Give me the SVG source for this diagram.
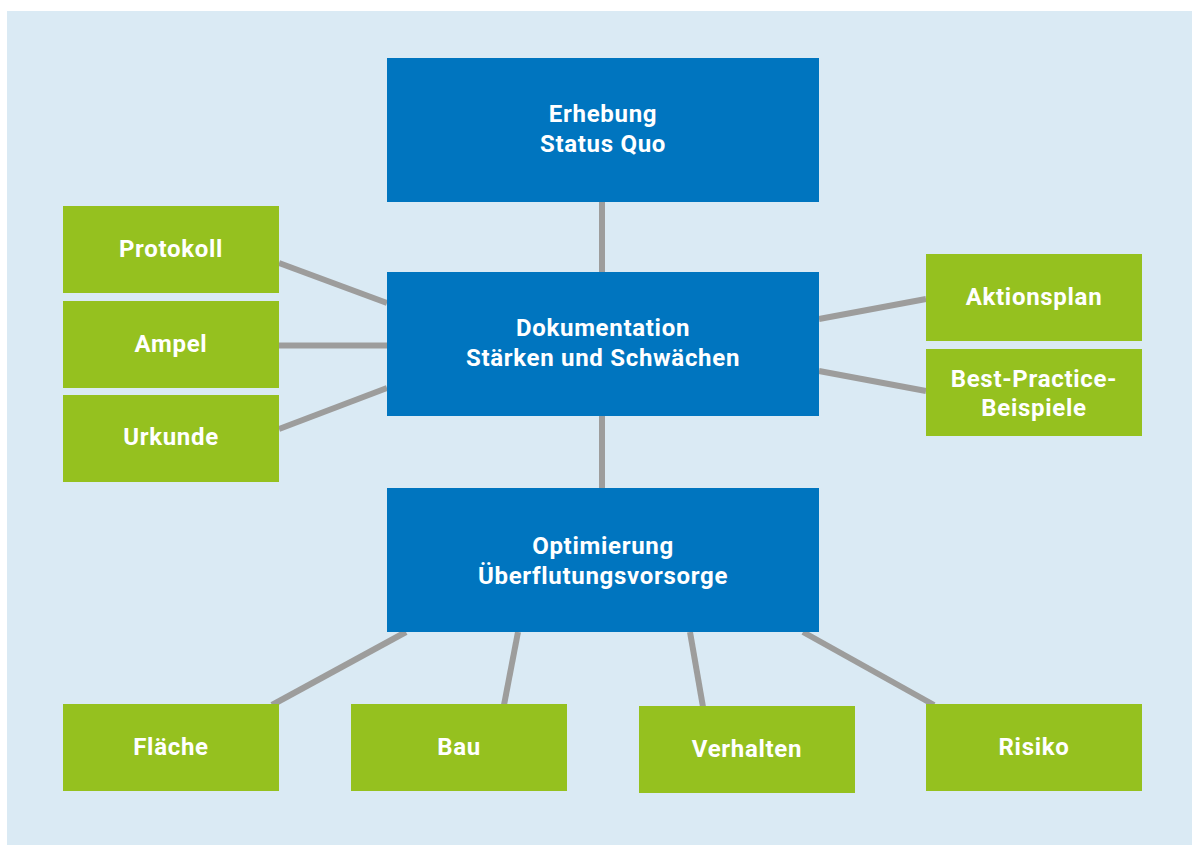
<svg xmlns="http://www.w3.org/2000/svg" width="1192" height="845" viewBox="0 0 1192 845">
<style>
.blue{fill:#0075bf}
.green{fill:#95c11f}
.lbl{font-family:Roboto,"Liberation Sans",sans-serif;font-weight:bold;font-size:24px;letter-spacing:0.7px;fill:#ffffff;text-anchor:middle}
.con{stroke:#9d9d9c;stroke-width:6;fill:none}
</style>
<rect x="0" y="0" width="1192" height="845" fill="#ffffff"/>
<rect x="7" y="11" width="1185" height="834" fill="#daeaf4"/>
<g id="connectors">
<line class="con" x1="602" y1="202" x2="602" y2="272"/>
<line class="con" x1="602" y1="416" x2="602" y2="488"/>
<line class="con" x1="279" y1="263" x2="387" y2="303"/>
<line class="con" x1="279" y1="345.5" x2="387" y2="345.5"/>
<line class="con" x1="279" y1="429" x2="387" y2="388"/>
<line class="con" x1="819" y1="319" x2="926" y2="299"/>
<line class="con" x1="819" y1="371" x2="926" y2="391"/>
<line class="con" x1="406" y1="632" x2="272" y2="705"/>
<line class="con" x1="518" y1="632" x2="504" y2="705"/>
<line class="con" x1="690" y1="632" x2="703" y2="707"/>
<line class="con" x1="803" y1="632" x2="934" y2="705"/>
</g>
<g id="erhebung">
<rect class="blue" x="387" y="58" width="432" height="144"/>
<text class="lbl" x="603" y="122">Erhebung</text>
<text class="lbl" x="603" y="152">Status Quo</text>
</g>
<g id="dokumentation">
<rect class="blue" x="387" y="272" width="432" height="144"/>
<text class="lbl" x="603" y="336">Dokumentation</text>
<text class="lbl" x="603" y="366">Stärken und Schwächen</text>
</g>
<g id="optimierung">
<rect class="blue" x="387" y="488" width="432" height="144"/>
<text class="lbl" x="603" y="554">Optimierung</text>
<text class="lbl" x="603" y="584">Überflutungsvorsorge</text>
</g>
<g id="protokoll">
<rect class="green" x="63" y="206" width="216" height="87"/>
<text class="lbl" x="171" y="257">Protokoll</text>
</g>
<g id="ampel">
<rect class="green" x="63" y="301" width="216" height="87"/>
<text class="lbl" x="171" y="352">Ampel</text>
</g>
<g id="urkunde">
<rect class="green" x="63" y="395" width="216" height="87"/>
<text class="lbl" x="171" y="445">Urkunde</text>
</g>
<g id="aktionsplan">
<rect class="green" x="926" y="254" width="216" height="87"/>
<text class="lbl" x="1034" y="305">Aktionsplan</text>
</g>
<g id="bestpractice">
<rect class="green" x="926" y="349" width="216" height="87"/>
<text class="lbl" x="1034" y="387">Best-Practice-</text>
<text class="lbl" x="1034" y="416">Beispiele</text>
</g>
<g id="flaeche">
<rect class="green" x="63" y="704" width="216" height="87"/>
<text class="lbl" x="171" y="755">Fläche</text>
</g>
<g id="bau">
<rect class="green" x="351" y="704" width="216" height="87"/>
<text class="lbl" x="459" y="755">Bau</text>
</g>
<g id="verhalten">
<rect class="green" x="639" y="706" width="216" height="87"/>
<text class="lbl" x="747" y="757">Verhalten</text>
</g>
<g id="risiko">
<rect class="green" x="926" y="704" width="216" height="87"/>
<text class="lbl" x="1034" y="755">Risiko</text>
</g>
</svg>
